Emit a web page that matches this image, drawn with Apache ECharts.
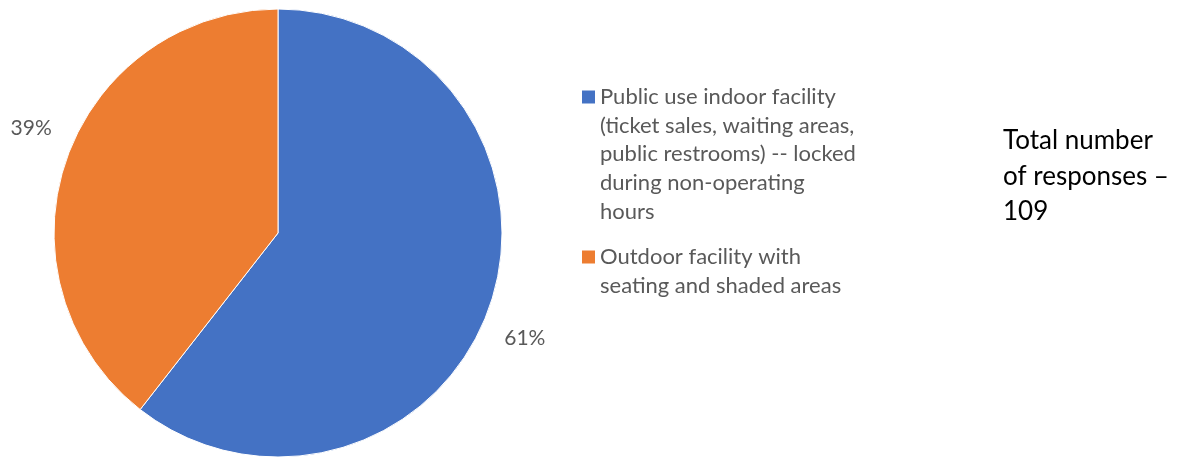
<!DOCTYPE html>
<html>
<head>
<meta charset="utf-8">
<script src="https://cdn.jsdelivr.net/npm/echarts@6/dist/echarts.min.js"></script>
<style>
html,body{margin:0;padding:0;background:#fff;}
#chart{width:1178px;height:457px;}
</style>
</head>
<body>
<div id="chart"></div>
<script>
// Data
const categories = [
  'Public use indoor facility\n(ticket sales, waiting areas,\npublic restrooms) -- locked\nduring non-operating\nhours',
  'Outdoor facility with\nseating and shaded areas'
];
const responseCounts = [66, 43];
const sliceColors = ['#4472C4', '#ED7D31'];
const totalLabel = 'Total number\nof responses \u2013\n';

const total = responseCounts.reduce((a, b) => a + b, 0);
const LH = 28.7;
const FONT = 'Lato, "Open Sans", sans-serif';

function legendFor(idx, iconCenterY) {
  const n = categories[idx].split('\n').length;
  return {
    orient: 'vertical',
    left: 582,
    top: iconCenterY - (2 * n - 1) * LH / 2,
    padding: 0,
    itemWidth: 13,
    itemHeight: 13,
    icon: 'rect',
    itemStyle: { borderWidth: 0 },
    data: [{ name: categories[idx] }],
    selectedMode: false,
    formatter: name => '\n'.repeat(n - 1) + name,
    textStyle: {
      fontFamily: FONT,
      fontSize: 22,
      color: '#595959',
      lineHeight: LH
    }
  };
}

const chart = echarts.init(document.getElementById('chart'), null, { renderer: 'canvas' });
chart.setOption({
  animation: false,
  backgroundColor: '#ffffff',
  title: {
    text: totalLabel + total,
    left: 1003,
    top: 123,
    padding: 0,
    textStyle: {
      fontFamily: FONT,
      fontSize: 26,
      fontWeight: 'normal',
      color: '#000000',
      lineHeight: 35.5
    }
  },
  legend: [
    legendFor(0, 97),
    legendFor(1, 257)
  ],
  series: [{
    type: 'pie',
    center: [278, 233],
    radius: 224,
    startAngle: 90,
    clockwise: true,
    avoidLabelOverlap: false,
    data: categories.map((c, i) => ({
      name: c,
      value: responseCounts[i],
      itemStyle: { color: sliceColors[i] }
    })),
    itemStyle: { borderColor: '#ffffff', borderWidth: 1 },
    label: {
      show: true,
      position: 'outside',
      formatter: p => Math.round(p.percent) + '%',
      fontFamily: FONT,
      fontSize: 21,
      color: '#595959'
    },
    labelLine: { show: false, length: 10, length2: 0 },
    labelLayout: function (p) {
      return { dy: p.dataIndex === 0 ? 29 : -29 };
    },
    emphasis: { disabled: true }
  }]
});
</script>
</body>
</html>
